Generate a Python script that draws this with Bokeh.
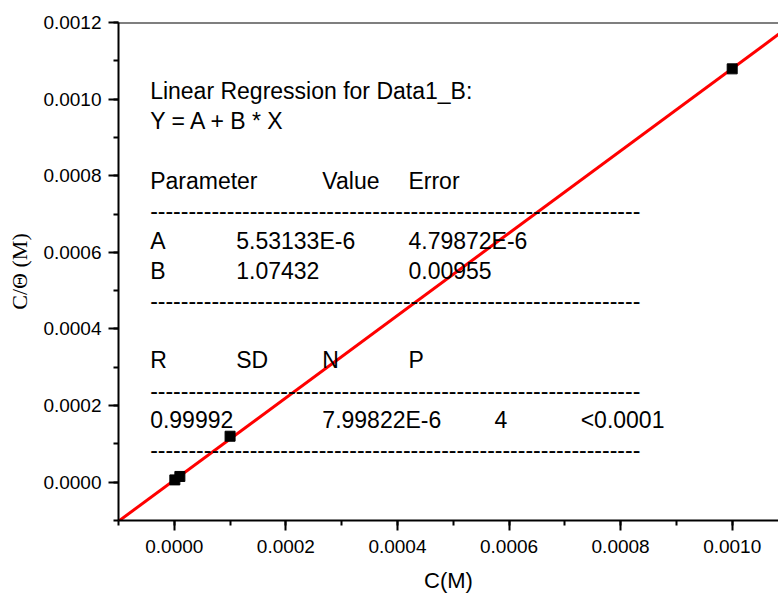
from bokeh.plotting import figure
from bokeh.models import (Range1d, SingleIntervalTicker, NumeralTickFormatter,
                          Label, Span, ColumnDataSource)
from bokeh.embed import file_html
from bokeh.resources import INLINE

# ---- data ----
conc = [1.0e-6, 1.0e-5, 1.0e-4, 1.0e-3]             # C (M)
ratio = [6.0e-6, 1.5e-5, 1.20e-4, 1.079e-3]         # C/Theta (M)

fit_A = 5.53133e-6
fit_B = 1.07432

title_lines = ["Linear Regression for Data1_B:", "Y = A + B * X"]
param_header = ["Parameter", "Value", "Error"]
param_names = ["A", "B"]
param_values = ["5.53133E-6", "1.07432"]
param_errors = ["4.79872E-6", "0.00955"]
stat_header = ["R", "SD", "N", "P"]
stat_values = ["0.99992", "7.99822E-6", "4", "<0.0001"]

x_start, x_end = -0.0001, 0.001083
y_start, y_top = -0.0001, 0.0012
y_end = y_top + 1e-10

FONT = "Liberation Sans"

p = figure(width=778, height=596, output_backend="svg", toolbar_location=None,
           x_range=Range1d(x_start, x_end), y_range=Range1d(y_start, y_end),
           min_border_left=118, min_border_right=0, min_border_top=22,
           min_border_bottom=76)
p.outline_line_color = None
p.xgrid.visible = False
p.ygrid.visible = False
p.background_fill_color = "white"
p.border_fill_color = "white"

for ax, tick in ((p.xaxis[0], 0.0002), (p.yaxis[0], 0.0002)):
    ax.ticker = SingleIntervalTicker(interval=tick, num_minor_ticks=2)
    ax.formatter = NumeralTickFormatter(format="0.0000")
    ax.axis_line_width = 2
    ax.axis_line_color = "black"
    ax.major_tick_line_width = 2
    ax.minor_tick_line_width = 2
    ax.major_tick_in = 0
    ax.major_tick_out = 10
    ax.minor_tick_in = 0
    ax.minor_tick_out = 5
    ax.major_label_text_font = FONT
    ax.major_label_text_font_size = "19px"
    ax.major_label_text_color = "black"
    ax.axis_label_text_font_style = "normal"
    ax.axis_label_text_color = "black"

p.xaxis.axis_label = "C(M)"
p.xaxis.axis_label_text_font = FONT
p.xaxis.axis_label_text_font_size = "22px"
p.xaxis.major_label_standoff = 9
p.xaxis.axis_label_standoff = 12

p.yaxis.axis_label = "C/\u0398 (M)"
p.yaxis.axis_label_text_font = "Liberation Serif"
p.yaxis.axis_label_text_font_size = "22px"
p.yaxis.major_label_standoff = 7
p.yaxis.axis_label_standoff = 8

# top frame line
p.add_layout(Span(location=y_top, dimension="width", line_color="black", line_width=2))

# fitted line across the whole range
lx = [x_start - 0.0001, x_end + 0.0001]
ly = [fit_A + fit_B * v for v in lx]
p.line(lx, ly, line_color="#ff0000", line_width=3)

src = ColumnDataSource(data=dict(x=conc, y=ratio))
p.scatter("x", "y", source=src, marker="square", size=10, color="black")

# ---- regression report text ----
px_per_x = 558.5 / 0.001
px_per_y = 76.55 / 0.0002
col0 = -4.33e-5
tab = 86.2 / px_per_x
cols = [col0 + i * tab for i in range(6)]
row0 = 1.0203e-3
line_step = 29.85 / px_per_y
TXT = "23px"


def put(text, col, row, dy=0.0):
    p.add_layout(Label(x=cols[col], y=row0 - row * line_step + dy, text=text,
                       text_font=FONT, text_font_size=TXT, text_color="black",
                       text_baseline="middle", text_align="left"))


dashes = "-" * 64
put(title_lines[0], 0, 0)
put(title_lines[1], 0, 1)
put(param_header[0], 0, 3)
put(param_header[1], 2, 3)
put(param_header[2], 3, 3)
put(dashes, 0, 4)
for i in range(2):
    put(param_names[i], 0, 5 + i)
    put(param_values[i], 1, 5 + i)
    put(param_errors[i], 3, 5 + i)
put(dashes, 0, 7)
for i, h in enumerate(stat_header):
    put(h, i, 9)
put(dashes, 0, 10)
for c, v in zip([0, 2, 4, 5], stat_values):
    put(v, c, 11)
put(dashes, 0, 12)

open("out.html", "w").write(file_html(p, INLINE))
